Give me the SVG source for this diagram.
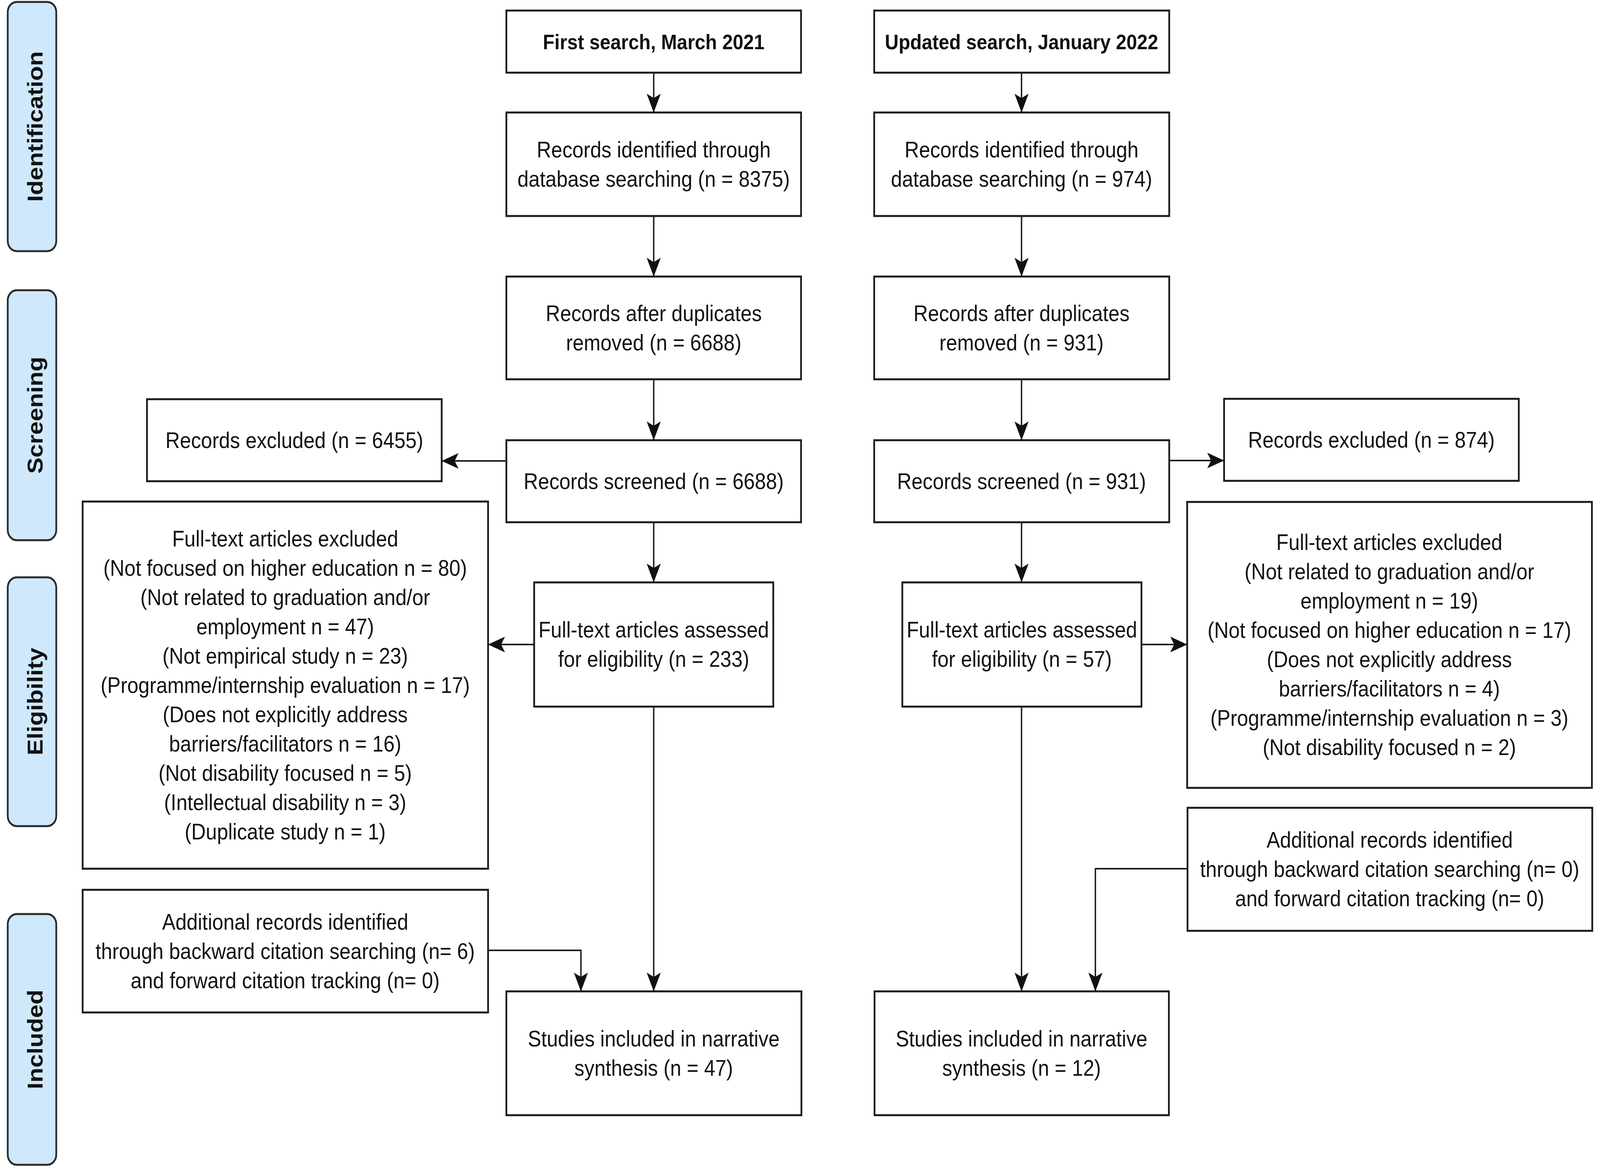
<svg xmlns="http://www.w3.org/2000/svg" width="4550" height="3003" viewBox="0 0 4550 3003" preserveAspectRatio="none" style="width:100vw;height:100vh;display:block">
<style>
.bg{fill:#ffffff}
.phase rect{fill:#cfe8fb;stroke:#2a2a2a;stroke-width:5}
.phase text{font-family:"Liberation Sans",Arial,sans-serif;font-weight:bold;font-size:62px;fill:#111;text-anchor:middle}
.box rect{fill:#ffffff;stroke:#1a1a1a;stroke-width:5}
.box text{font-family:"Liberation Sans",Arial,sans-serif;font-size:57px;fill:#111;text-anchor:middle}
.box text.b{font-weight:bold;font-size:54px}
.conn path{fill:none;stroke:#1a1a1a;stroke-width:4;marker-end:url(#ah)}
</style>
<defs>
<marker id="ah" markerUnits="userSpaceOnUse" markerWidth="50" markerHeight="42" refX="48" refY="21" orient="auto">
<path d="M0,1 L48,21 L0,41 L11,21 Z" fill="#111"/>
</marker>
</defs>
<rect class="bg" x="0" y="0" width="4550" height="3003"/>

<!-- Phase labels -->
<g id="phase-identification" class="phase">
<rect x="22" y="5" width="138" height="638" rx="26"/>
<text transform="translate(91,324) rotate(-90)" x="0" y="30">Identification</text>
</g>
<g id="phase-screening" class="phase">
<rect x="22" y="743" width="138" height="640" rx="26"/>
<text transform="translate(91,1063) rotate(-90)" x="0" y="30">Screening</text>
</g>
<g id="phase-eligibility" class="phase">
<rect x="22" y="1478" width="138" height="637" rx="26"/>
<text transform="translate(91,1796) rotate(-90)" x="0" y="30">Eligibility</text>
</g>
<g id="phase-included" class="phase">
<rect x="22" y="2340" width="138" height="642" rx="26"/>
<text transform="translate(91,2661) rotate(-90)" x="0" y="30">Included</text>
</g>

<!-- Left column -->
<g id="first-search" class="box">
<rect x="1440" y="27" width="838" height="159"/>
<text class="b" x="1859" y="126">First search, March 2021</text>
</g>
<g id="left-identified" class="box">
<rect x="1440" y="288" width="838" height="265"/>
<text x="1859" y="403">Records identified through</text>
<text x="1859" y="478">database searching (n = 8375)</text>
</g>
<g id="left-duplicates" class="box">
<rect x="1440" y="708" width="838" height="263"/>
<text x="1859" y="822">Records after duplicates</text>
<text x="1859" y="897">removed (n = 6688)</text>
</g>
<g id="left-screened" class="box">
<rect x="1440" y="1127" width="838" height="210"/>
<text x="1859" y="1252">Records screened (n = 6688)</text>
</g>
<g id="left-records-excluded" class="box">
<rect x="418" y="1022" width="838" height="210"/>
<text x="837" y="1147">Records excluded (n = 6455)</text>
</g>
<g id="left-assessed" class="box">
<rect x="1519" y="1491" width="680" height="318"/>
<text x="1859" y="1632">Full-text articles assessed</text>
<text x="1859" y="1707">for eligibility (n = 233)</text>
</g>
<g id="left-fulltext-excluded" class="box">
<rect x="235" y="1284" width="1153" height="940"/>
<text x="811" y="1399">Full-text articles excluded</text>
<text x="811" y="1474">(Not focused on higher education n = 80)</text>
<text x="811" y="1549">(Not related to graduation and/or</text>
<text x="811" y="1624">employment n = 47)</text>
<text x="811" y="1699">(Not empirical study n = 23)</text>
<text x="811" y="1774">(Programme/internship evaluation n = 17)</text>
<text x="811" y="1849">(Does not explicitly address</text>
<text x="811" y="1924">barriers/facilitators n = 16)</text>
<text x="811" y="1999">(Not disability focused n = 5)</text>
<text x="811" y="2074">(Intellectual disability n = 3)</text>
<text x="811" y="2149">(Duplicate study n = 1)</text>
</g>
<g id="left-additional" class="box">
<rect x="235" y="2278" width="1153" height="314"/>
<text x="811" y="2380">Additional records identified</text>
<text x="811" y="2455">through backward citation searching (n= 6)</text>
<text x="811" y="2530">and forward citation tracking (n= 0)</text>
</g>
<g id="left-included" class="box">
<rect x="1440" y="2538" width="839" height="317"/>
<text x="1859" y="2679">Studies included in narrative</text>
<text x="1859" y="2754">synthesis (n = 47)</text>
</g>

<!-- Right column -->
<g id="updated-search" class="box">
<rect x="2486" y="27" width="839" height="159"/>
<text class="b" x="2905" y="126">Updated search, January 2022</text>
</g>
<g id="right-identified" class="box">
<rect x="2486" y="288" width="839" height="265"/>
<text x="2905" y="403">Records identified through</text>
<text x="2905" y="478">database searching (n = 974)</text>
</g>
<g id="right-duplicates" class="box">
<rect x="2486" y="708" width="839" height="263"/>
<text x="2905" y="822">Records after duplicates</text>
<text x="2905" y="897">removed (n = 931)</text>
</g>
<g id="right-screened" class="box">
<rect x="2486" y="1127" width="839" height="210"/>
<text x="2905" y="1252">Records screened (n = 931)</text>
</g>
<g id="right-records-excluded" class="box">
<rect x="3481" y="1021" width="838" height="210"/>
<text x="3900" y="1146">Records excluded (n = 874)</text>
</g>
<g id="right-assessed" class="box">
<rect x="2566" y="1491" width="680" height="318"/>
<text x="2906" y="1632">Full-text articles assessed</text>
<text x="2906" y="1707">for eligibility (n = 57)</text>
</g>
<g id="right-fulltext-excluded" class="box">
<rect x="3376" y="1285" width="1151" height="732"/>
<text x="3951" y="1408">Full-text articles excluded</text>
<text x="3951" y="1483">(Not related to graduation and/or</text>
<text x="3951" y="1558">employment n = 19)</text>
<text x="3951" y="1633">(Not focused on higher education n = 17)</text>
<text x="3951" y="1708">(Does not explicitly address</text>
<text x="3951" y="1783">barriers/facilitators n = 4)</text>
<text x="3951" y="1858">(Programme/internship evaluation n = 3)</text>
<text x="3951" y="1933">(Not disability focused n = 2)</text>
</g>
<g id="right-additional" class="box">
<rect x="3377" y="2068" width="1151" height="315"/>
<text x="3952" y="2170">Additional records identified</text>
<text x="3952" y="2245">through backward citation searching (n= 0)</text>
<text x="3952" y="2320">and forward citation tracking (n= 0)</text>
</g>
<g id="right-included" class="box">
<rect x="2487" y="2538" width="837" height="317"/>
<text x="2905" y="2679">Studies included in narrative</text>
<text x="2905" y="2754">synthesis (n = 12)</text>
</g>

<!-- Connectors -->
<g id="connectors" class="conn">
<path d="M1859,186 V288"/>
<path d="M1859,553 V708"/>
<path d="M1859,971 V1127"/>
<path d="M1859,1337 V1491"/>
<path d="M1859,1809 V2538"/>
<path d="M1440,1180 H1256"/>
<path d="M1519,1650 H1388"/>
<path d="M1388,2433 H1652 V2538"/>
<path d="M2905,186 V288"/>
<path d="M2905,553 V708"/>
<path d="M2905,971 V1127"/>
<path d="M2905,1337 V1491"/>
<path d="M2905,1809 V2538"/>
<path d="M3325,1179 H3481"/>
<path d="M3246,1650 H3376"/>
<path d="M3377,2224 H3115 V2538"/>
</g>
</svg>
